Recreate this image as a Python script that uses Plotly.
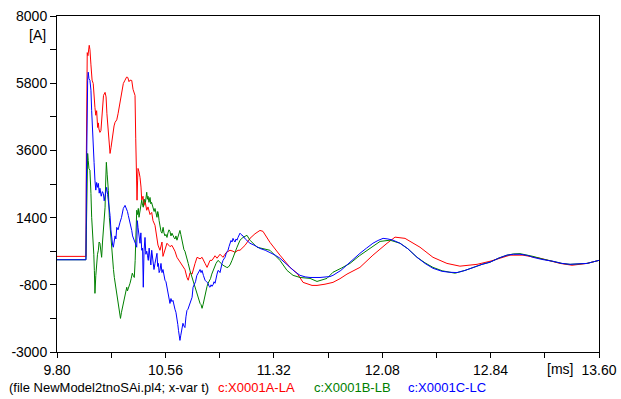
import plotly.graph_objects as go

# Phase currents vs time (ms), EMTP output of NewModel2tnoSAi.pl4
t_a = [9.800, 10.003, 10.006, 10.009, 10.012, 10.017, 10.026, 10.031, 10.038, 10.046,
       10.054, 10.060, 10.066, 10.072, 10.078, 10.085, 10.090, 10.094, 10.101, 10.108,
       10.115, 10.126, 10.137, 10.144, 10.150, 10.158, 10.165, 10.172, 10.179, 10.186,
       10.193, 10.200, 10.207, 10.219, 10.228, 10.242, 10.254, 10.265, 10.277, 10.288,
       10.296, 10.305, 10.312, 10.324, 10.333, 10.347, 10.352, 10.356, 10.359, 10.361,
       10.365, 10.368, 10.375, 10.382, 10.389, 10.394, 10.403, 10.410, 10.417, 10.429,
       10.438, 10.452, 10.464, 10.473, 10.487, 10.499, 10.508, 10.522, 10.536, 10.543,
       10.557, 10.571, 10.592, 10.606, 10.627, 10.641, 10.662, 10.683, 10.697, 10.711,
       10.720, 10.733, 10.747, 10.768, 10.782, 10.803, 10.817, 10.838, 10.852, 10.873,
       10.887, 10.908, 10.922, 10.943, 10.964, 10.985, 11.013, 11.034, 11.048, 11.069,
       11.083, 11.118, 11.153, 11.188, 11.223, 11.244, 11.293, 11.363, 11.434, 11.483,
       11.525, 11.588, 11.623, 11.679, 11.735, 11.784, 11.833, 11.924, 12.015, 12.114,
       12.170, 12.240, 12.345, 12.436, 12.534, 12.625, 12.745, 12.836, 12.976, 13.067,
       13.186, 13.327, 13.411, 13.516, 13.600]
i_a = [130, 130, 3600, 5200, 6800, 6700, 7040, 6900, 6400, 5900,
       5790, 5300, 5000, 4750, 4900, 4350, 4500, 4300, 4190, 4250,
       4700, 5400, 5500, 5350, 4800, 4200, 3700, 3500, 3700, 4000,
       4300, 4400, 4520, 4600, 4800, 5200, 5500, 5790, 5900, 6000,
       5990, 5850, 5900, 5890, 5600, 5400, 4000, 2500, 2230, 1970,
       2600, 3010, 2900, 2720, 2400, 1970, 2100, 1800, 1950, 1640,
       1750, 1500, 1570, 1300, 1150, 750, 500, 330, 600, 130,
       350, 560, 450, 490, 300, 100, -50, -230, -300, -560,
       -650, -400, -450, -100, 100, 50, 100, -100, -230, 0,
       0, 150, 70, 200, 100, 250, 330, 300, 260, 330,
       330, 490, 720, 870, 980, 950, 590, 170, -230, -420,
       -720, -820, -820, -780, -720, -600, -450, -230, 170, 560,
       760, 720, 430, 100, -100, -190, -130, -30, 170, 170,
       70, -100, -160, -100, 0]

t_b = [9.800, 10.003, 10.006, 10.010, 10.015, 10.019, 10.024, 10.031, 10.035, 10.038,
       10.043, 10.049, 10.054, 10.058, 10.062, 10.066, 10.072, 10.078, 10.084, 10.090,
       10.095, 10.101, 10.107, 10.113, 10.119, 10.125, 10.131, 10.137, 10.141, 10.146,
       10.152, 10.160, 10.167, 10.173, 10.179, 10.185, 10.191, 10.196, 10.202, 10.210,
       10.219, 10.225, 10.230, 10.238, 10.245, 10.252, 10.258, 10.265, 10.271, 10.277,
       10.283, 10.289, 10.294, 10.298, 10.305, 10.312, 10.320, 10.328, 10.335, 10.342,
       10.348, 10.352, 10.359, 10.365, 10.370, 10.375, 10.382, 10.388, 10.394, 10.400,
       10.405, 10.412, 10.420, 10.429, 10.434, 10.438, 10.445, 10.452, 10.458, 10.463,
       10.469, 10.475, 10.481, 10.487, 10.494, 10.501, 10.506, 10.510, 10.516, 10.522,
       10.529, 10.536, 10.540, 10.544, 10.550, 10.557, 10.564, 10.571, 10.578, 10.585,
       10.592, 10.599, 10.606, 10.613, 10.620, 10.627, 10.634, 10.641, 10.650, 10.656,
       10.662, 10.668, 10.673, 10.683, 10.690, 10.697, 10.704, 10.711, 10.720, 10.732,
       10.740, 10.747, 10.754, 10.761, 10.768, 10.775, 10.782, 10.789, 10.796, 10.803,
       10.810, 10.817, 10.824, 10.831, 10.838, 10.845, 10.852, 10.859, 10.866, 10.876,
       10.885, 10.894, 10.905, 10.915, 10.929, 10.938, 10.946, 10.955, 10.964, 10.975,
       10.990, 10.999, 11.013, 11.027, 11.034, 11.048, 11.062, 11.083, 11.104, 11.132,
       11.153, 11.202, 11.244, 11.293, 11.363, 11.413, 11.455, 11.504, 11.574, 11.623,
       11.693, 11.735, 11.795, 11.854, 11.920, 11.973, 12.030, 12.065, 12.135, 12.205,
       12.260, 12.324, 12.380, 12.436, 12.500, 12.590, 12.660, 12.717, 12.780, 12.836,
       12.900, 12.955, 13.000, 13.046, 13.100, 13.137, 13.200, 13.277, 13.340, 13.397,
       13.460, 13.516, 13.600]
i_b = [20, 20, 1000, 2500, 3500, 3270, 3000, 2950, 2600, 2190,
       1410, 1000, 560, 200, -330, -1080, -500, 0, 200, 330,
       600, 560, 300, 100, 600, 1080, 1400, 1740, 2500, 3210,
       2800, 2290, 1410, 1000, 660, 300, 0, -300, -560, -800,
       -1080, -1300, -1540, -1750, -1900, -1700, -1550, -1410, -1200, -1080,
       -950, -880, -1000, -950, -800, -750, -600, -420, -500, -560,
       0, 1080, 1640, 1500, 1700, 1410, 1600, 1800, 1970, 1800,
       1740, 2000, 1900, 2230, 2000, 2100, 1900, 2060, 1850, 1900,
       1800, 1740, 1600, 1700, 1500, 1410, 1600, 1540, 1300, 1100,
       950, 890, 1000, 1080, 900, 800, 850, 750, 900, 1000,
       950, 800, 890, 800, 750, 700, 800, 660, 800, 900,
       980, 850, 700, 430, 350, 300, 200, 100, -100, -330,
       -450, -550, -650, -750, -900, -1000, -1140, -1250, -1300, -1410,
       -1450, -1570, -1450, -1300, -1080, -950, -850, -750, -700, -600,
       -450, -330, -200, -100, 0, -50, -100, -120, -160, -200,
       -230, -230, -150, 0, 100, 300, 430, 660, 750, 820,
       660, 430, 390, 330, 0, -330, -490, -560, -590, -690,
       -590, -390, -250, -100, 150, 330, 500, 620, 660, 560,
       380, 100, -80, -230, -340, -420, -330, -230, -130, -60,
       80, 170, 210, 220, 170, 130, 50, -30, -100, -130,
       -120, -100, 0]

t_c = [9.800, 10.003, 10.006, 10.010, 10.015, 10.019, 10.024, 10.031, 10.038, 10.043,
       10.047, 10.054, 10.060, 10.066, 10.072, 10.078, 10.085, 10.090, 10.096, 10.101,
       10.110, 10.118, 10.125, 10.131, 10.137, 10.143, 10.148, 10.155, 10.160, 10.166,
       10.172, 10.178, 10.184, 10.190, 10.195, 10.201, 10.207, 10.213, 10.219, 10.228,
       10.235, 10.242, 10.252, 10.260, 10.265, 10.277, 10.287, 10.294, 10.300, 10.306,
       10.312, 10.318, 10.324, 10.330, 10.335, 10.342, 10.347, 10.354, 10.359, 10.363,
       10.368, 10.375, 10.382, 10.388, 10.394, 10.400, 10.405, 10.410, 10.417, 10.423,
       10.429, 10.435, 10.440, 10.446, 10.452, 10.458, 10.464, 10.469, 10.473, 10.480,
       10.487, 10.494, 10.501, 10.506, 10.511, 10.516, 10.522, 10.529, 10.536, 10.543,
       10.550, 10.557, 10.564, 10.571, 10.578, 10.585, 10.592, 10.599, 10.606, 10.613,
       10.620, 10.627, 10.634, 10.641, 10.647, 10.652, 10.657, 10.662, 10.668, 10.673,
       10.678, 10.683, 10.690, 10.697, 10.704, 10.711, 10.718, 10.725, 10.732, 10.740,
       10.747, 10.754, 10.761, 10.771, 10.780, 10.789, 10.796, 10.803, 10.810, 10.817,
       10.827, 10.838, 10.848, 10.859, 10.866, 10.873, 10.880, 10.887, 10.894, 10.901,
       10.908, 10.915, 10.922, 10.929, 10.936, 10.943, 10.950, 10.957, 10.964, 10.971,
       10.978, 10.988, 10.999, 11.006, 11.013, 11.020, 11.027, 11.034, 11.041, 11.048,
       11.055, 11.062, 11.069, 11.076, 11.083, 11.090, 11.104, 11.120, 11.153, 11.190,
       11.223, 11.260, 11.293, 11.330, 11.363, 11.400, 11.434, 11.470, 11.504, 11.540,
       11.574, 11.644, 11.714, 11.735, 11.790, 11.833, 11.880, 11.924, 11.970, 12.015,
       12.050, 12.086, 12.120, 12.156, 12.205, 12.260, 12.324, 12.380, 12.436, 12.500,
       12.555, 12.604, 12.660, 12.717, 12.780, 12.836, 12.900, 12.955, 13.000, 13.046,
       13.100, 13.137, 13.200, 13.277, 13.340, 13.397, 13.460, 13.516, 13.600]
i_c = [20, 20, 2500, 5000, 5900, 6160, 5950, 5890, 5570, 4900,
       4350, 4030, 3200, 2620, 2300, 2550, 2390, 2520, 2200, 2360,
       2100, 2250, 2190, 1950, 2100, 2250, 2390, 2150, 1970, 1700,
       1470, 1000, 660, 500, 430, 650, 800, 700, 1080, 1000,
       1150, 1250, 1400, 1550, 1700, 1800, 1700, 1600, 1470, 1350,
       1300, 1100, 980, 800, 720, 650, 600, 500, 430, 1300,
       1080, 700, 560, 900, 330, 400, -880, 300, 750, 200,
       300, 150, 0, 400, 0, -150, 330, 50, 100, -300,
       -100, 100, 230, -200, -100, -400, -330, -100, -400, -300,
       -550, -650, -700, -900, -1100, -1300, -1410, -1250, -1350, -1310,
       -1500, -1600, -1700, -1860, -2100, -2300, -2500, -2620, -2450, -2300,
       -2150, -2060, -2150, -2200, -1850, -1640, -1600, -1500, -1410, -1300,
       -1210, -880, -800, -700, -500, -420, -350, -300, -400, -330,
       -500, -650, -700, -750, -850, -880, -800, -850, -800, -700,
       -750, -550, -450, -330, -350, -400, -200, -100, 0, 50,
       100, 250, 330, 450, 560, 650, 600, 720, 650, 600,
       700, 660, 750, 830, 890, 850, 800, 700, 560, 480,
       390, 330, 260, 170, 70, -100, -230, -380, -490, -540,
       -560, -560, -530, -490, -330, -150, 50, 230, 400, 560,
       650, 720, 700, 660, 560, 380, 100, -100, -260, -360,
       -390, -400, -330, -230, -130, -60, 80, 170, 200, 200,
       160, 100, 30, -30, -100, -130, -120, -100, 0]

# Axis ticks: labelled major ticks with unlabelled minor ticks halfway between
x_ticks = [9.80, 10.18, 10.56, 10.94, 11.32, 11.70, 12.08, 12.46, 12.84, 13.22, 13.60]
x_labels = ["9.80", "", "10.56", "", "11.32", "", "12.08", "", "12.84", "", "13.60"]
y_ticks = [-3000, -1900, -800, 300, 1400, 2500, 3600, 4700, 5800, 6900, 8000]
y_labels = ["-3000", "", "-800", "", "1400", "", "3600", "", "5800", "", "8000"]

series = [
    ("c:X0001A-LA", t_a, i_a, "#ff0000"),
    ("c:X0001B-LB", t_b, i_b, "#008000"),
    ("c:X0001C-LC", t_c, i_c, "#0000ff"),
]

FONT = "Arial, Liberation Sans, sans-serif"

fig = go.Figure()
for name, t, i, col in series:
    fig.add_trace(go.Scatter(x=t, y=i, mode="lines", name=name,
                             line=dict(color=col, width=1)))

axis_common = dict(showline=True, linecolor="black", linewidth=1, mirror=True,
                   ticks="outside", tickcolor="black", tickwidth=1,
                   showgrid=False, zeroline=False, automargin=False,
                   tickfont=dict(family=FONT, size=14, color="black"))

fig.update_xaxes(range=[9.8, 13.6], tickmode="array", tickvals=x_ticks,
                 ticktext=x_labels, ticklen=5, **axis_common)
fig.update_yaxes(range=[-3000, 8000], tickmode="array", tickvals=y_ticks,
                 ticktext=y_labels, ticklen=6, **axis_common)

annotations = [
    dict(text="[A]", xref="paper", yref="paper", x=-0.016, y=0.942,
         xanchor="right", yanchor="middle", showarrow=False,
         font=dict(family=FONT, size=14, color="black")),
    dict(text="[ms]", xref="paper", yref="paper", x=0.928, y=-0.051,
         xanchor="center", yanchor="middle", showarrow=False,
         font=dict(family=FONT, size=14, color="black")),
    dict(text="(file NewModel2tnoSAi.pl4; x-var t)", xref="paper", yref="paper",
         x=-0.0923, y=-0.106, xanchor="left", yanchor="middle", showarrow=False,
         font=dict(family=FONT, size=13, color="black")),
]
legend_x = [0.2934, 0.4700, 0.6430]
for (name, _, _, col), lx in zip(series, legend_x):
    annotations.append(dict(text=name, xref="paper", yref="paper", x=lx, y=-0.106,
                            xanchor="left", yanchor="middle", showarrow=False,
                            font=dict(family=FONT, size=13, color=col)))

fig.update_layout(template="none", width=621, height=399,
                  margin=dict(l=57, r=22, t=16, b=47, autoexpand=False),
                  paper_bgcolor="white", plot_bgcolor="white",
                  showlegend=False, annotations=annotations)

fig.write_html("out.html")
